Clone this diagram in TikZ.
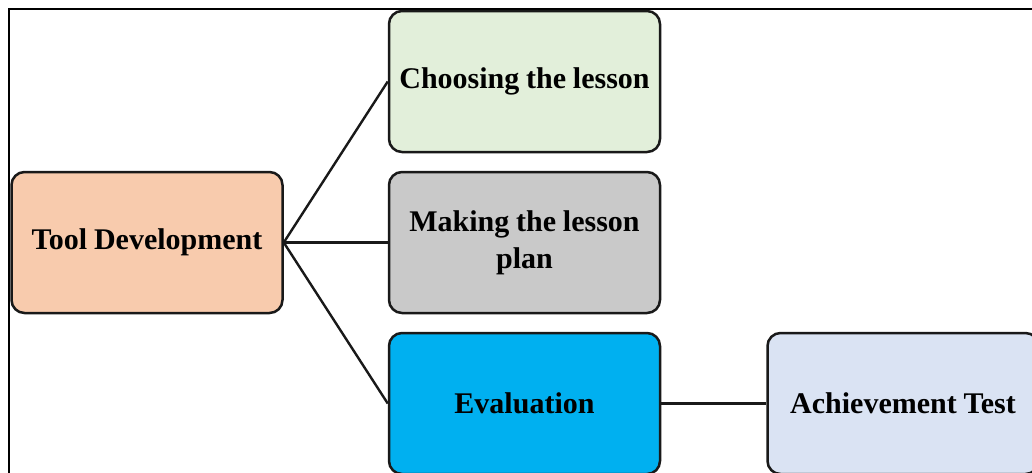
\documentclass[tikz,border=0pt]{standalone}
\usepackage{fontspec}
\setmainfont{Liberation Serif}
\definecolor{peach}{HTML}{F8CBAD}
\definecolor{lgreen}{HTML}{E2EFDA}
\definecolor{lgray}{HTML}{C9C9C9}
\definecolor{cyanb}{HTML}{00B0F0}
\definecolor{lblue}{HTML}{DAE3F3}
\tikzset{
  box/.style={draw=black!90, line width=2.5pt, rounded corners=13pt,
    minimum width=271pt, minimum height=141pt, align=center, inner sep=4pt,
    font=\fontsize{30}{37}\selectfont\bfseries, text width=262pt,
    execute at begin node={\spaceskip=6.8pt\relax}},
  link/.style={draw=black!90, line width=2.4pt}
}
\begin{document}
\begin{tikzpicture}[x=1pt,y=-1pt]
\clip (0,0) rectangle (1032,472);
\fill[white] (0,0) rectangle (1032,472);
\draw[line width=1.5pt] (9,480) -- (9,9) -- (1040,9);
\node[box, fill=peach] (tool) at (147,242.5) {Tool Development};
\node[box, fill=lgreen] (choose) at (524.5,81.5) {Choosing the lesson};
\node[box, fill=lgray] (plan) at (524.5,242.5) {Making the lesson\\plan};
\node[box, fill=cyanb] (eval) at (524.5,403.5) {Evaluation};
\node[box, fill=lblue] (ach) at (903,403.5) {Achievement Test};
\draw[link] (tool.east) -- (choose.west);
\draw[link] (tool.east) -- (plan.west);
\draw[link] (tool.east) -- (eval.west);
\draw[link] (eval.east) -- (ach.west);
\end{tikzpicture}
\end{document}
